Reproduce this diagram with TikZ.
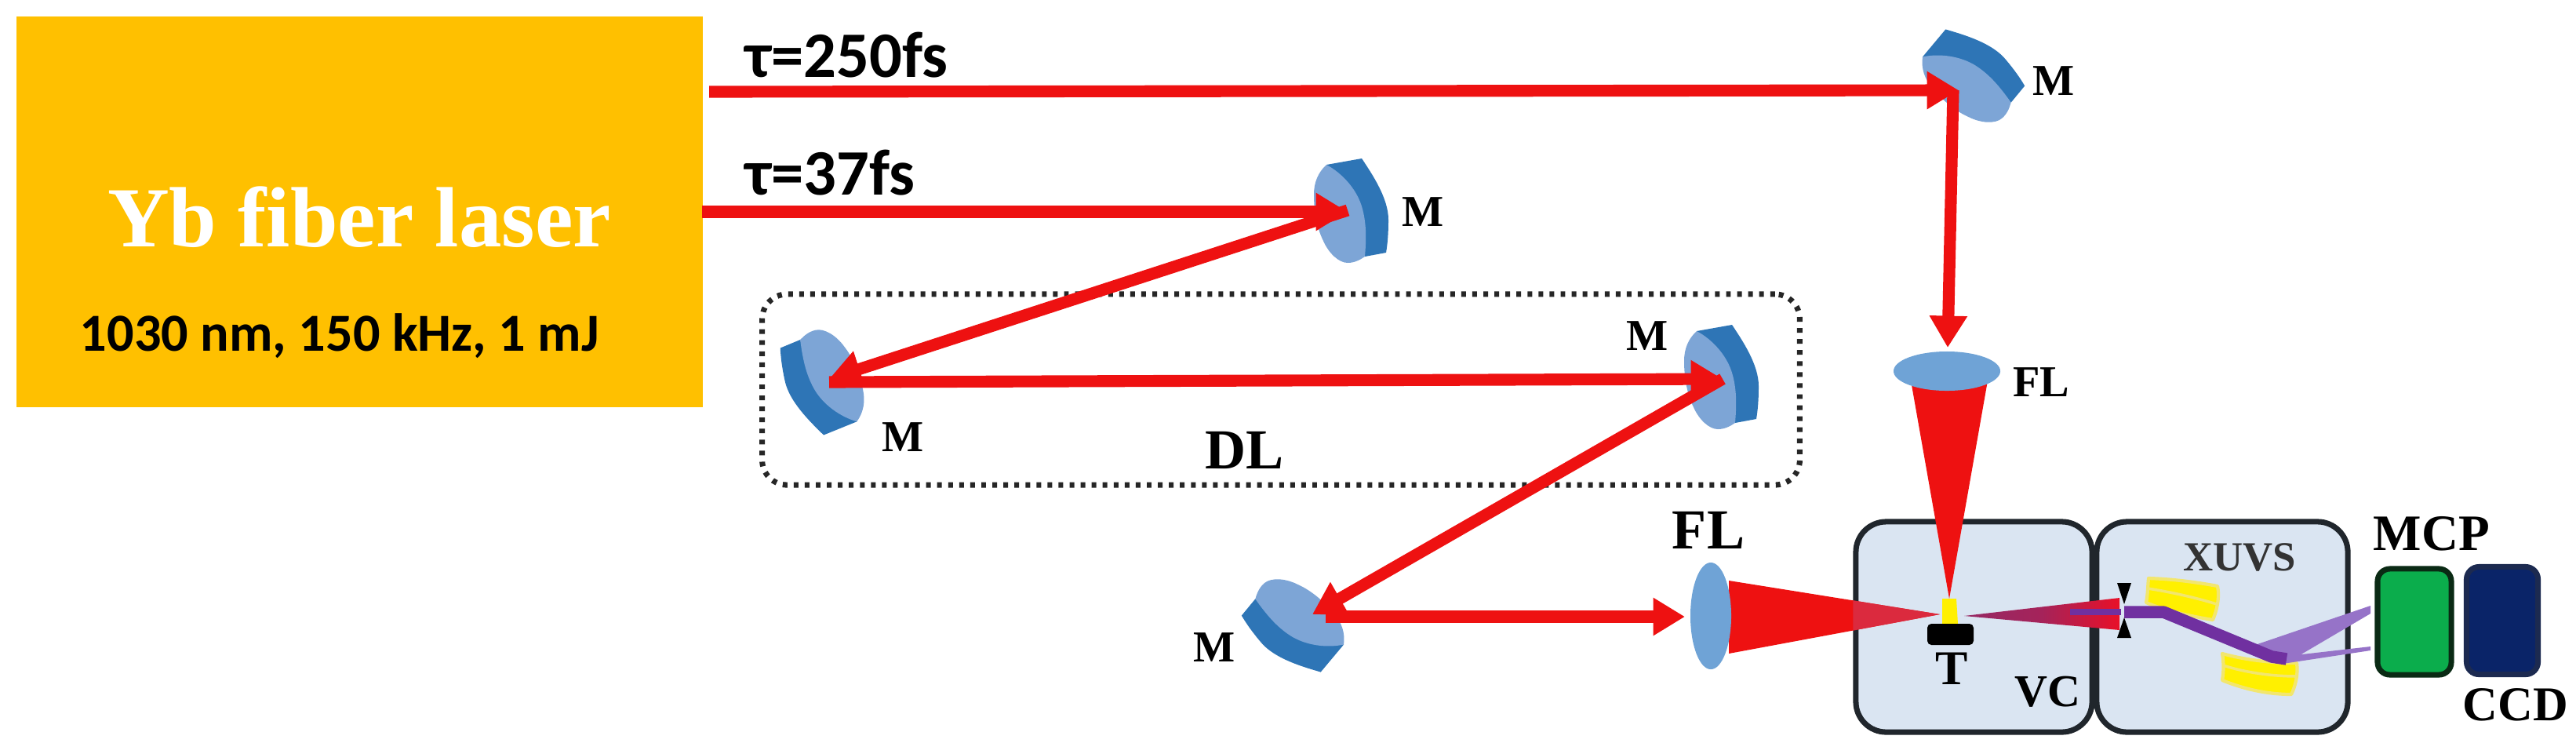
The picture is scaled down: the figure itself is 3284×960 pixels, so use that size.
\documentclass[tikz,border=0pt]{standalone}
\usepackage{fontspec}
\setmainfont{Liberation Serif}
\newfontfamily\carlito{Carlito}
\usetikzlibrary{arrows.meta,shapes.geometric}
\definecolor{beamred}{HTML}{EE1111}
\definecolor{mlight}{HTML}{7DA5D6}
\definecolor{mdark}{HTML}{2E75B6}
\definecolor{lensblue}{HTML}{6FA3D6}
\definecolor{chamber}{HTML}{DAE5F2}
\definecolor{chamberline}{HTML}{20262C}
\definecolor{laserfill}{HTML}{FFC000}
\definecolor{conedark}{HTML}{DB2A3E}
\definecolor{purplebeam}{HTML}{7030A0}
\definecolor{fan}{HTML}{9673C8}
\definecolor{yel}{HTML}{FFF000}
\definecolor{yelb}{HTML}{F2E66E}
\definecolor{mcpgreen}{HTML}{0BAD4C}
\definecolor{mcpedge}{HTML}{0A2A14}
\definecolor{ccdnavy}{HTML}{0A2468}
\definecolor{ccdedge}{HTML}{1C2A50}
\tikzset{
  beam/.style={draw=beamred,line width=4.3pt,-{Triangle[length=11.5pt,width=13pt,fill=beamred]}},
  chamberbox/.style={draw=chamberline,fill=chamber,line width=2pt,rounded corners=11pt,inner sep=0pt},
  detbox/.style={line width=2pt,rounded corners=4.5pt,inner sep=0pt},
  lbl/.style={font=\bfseries\fontsize{16}{16}\selectfont,text=black,inner sep=0pt},
  lblbig/.style={font=\bfseries\fontsize{20.5}{20.5}\selectfont,text=black,inner sep=0pt},
  lblmid/.style={font=\bfseries\fontsize{17.6}{17.6}\selectfont,text=black,inner sep=0pt},
  tau/.style={font=\carlito\bfseries\fontsize{23.5}{23.5}\selectfont,text=black,inner sep=0pt,anchor=base west},
  lens/.style={ellipse,fill=lensblue},
  xmirror/.style={fill=yel,draw=yelb,line width=1.2pt,line join=round},
  mirrorpic/.pic={
    \fill[mdark] (-31,-58) -- (14,-66)
      .. controls (28,-45) and (48,-15) .. (48,12)
      .. controls (48,30) and (47,42) .. (45,54)
      -- (18,59) -- (10,0) -- cycle;
    \fill[mlight] (-31,-58) .. controls (-42,-48) and (-47,-35) .. (-47,-20)
      .. controls (-47,5) and (-42,25) .. (-35,39)
      .. controls (-28,55) and (-15,67) .. (-4,67)
      .. controls (5,67) and (12,63) .. (18,59)
      .. controls (20,35) and (20,15) .. (14,-5)
      .. controls (7,-28) and (-12,-48) .. cycle;
  }
}
\begin{document}
\begin{tikzpicture}[x=0.01cm,y=-0.01cm]
\useasboundingbox (0,0) rectangle (3284,960);
\fill[white] (0,0) rectangle (3284,960);

% laser
\node[fill=laserfill,minimum width=8.75cm,minimum height=4.98cm,inner sep=0pt,outer sep=0pt] (laser) at (458.5,270) {};
\node[font=\bfseries\fontsize{31}{31}\selectfont,text=white,anchor=base,inner sep=0pt] (yb) at (458,314) {Yb fiber laser};
\node[font=\carlito\bfseries\fontsize{19.4}{19.4}\selectfont,text=black,anchor=base,inner sep=0pt] (spec) at (433,447) {1030 nm, 150 kHz, 1 mJ};
\node[tau] (tauA) at (950,98) {τ=250fs};
\node[tau] (tauB) at (950,248) {τ=37fs};

% delay line box
\node[draw=black!85,line width=2pt,dash pattern=on 1.7pt off 2.3pt,rounded corners=9pt,minimum width=13.22cm,minimum height=2.43cm,inner sep=0pt] (dl) at (1633,496.5) {};
\node[lblbig] (dltext) at (1587,574) {DL};

% chambers
\node[chamberbox,minimum width=3.01cm,minimum height=2.68cm] (vc) at (2516.5,799) {};
\node[chamberbox,minimum width=3.2cm,minimum height=2.68cm] (xuvs) at (2833,799) {};
\node[detbox,draw=mcpedge,fill=mcpgreen,minimum width=0.94cm,minimum height=1.35cm] (mcp) at (3078,792.5) {};
\node[detbox,draw=ccdedge,fill=ccdnavy,minimum width=0.91cm,minimum height=1.37cm] (ccd) at (3190,791) {};

% mirrors
\pic (mA) at (2512,97) [rotate=40] {mirrorpic};
\pic (mB) at (1722,268) {mirrorpic};
\pic (mC) at (1050,487) [rotate=192] {mirrorpic};
\pic (mD) at (2194,480) {mirrorpic};
\pic (mE) at (1652,797) [rotate=220] {mirrorpic};
\node[lbl] (lA) at (2618,103) {M};
\node[lbl] (lB) at (1814,270) {M};
\node[lbl] (lC) at (1151,557) {M};
\node[lbl] (lD) at (2100,428) {M};
\node[lbl] (lE) at (1548,825) {M};

% focusing cones
\coordinate (focus) at (2473,783);
\fill[beamred] (2204,740) -- (focus) -- (2204,833) -- cycle;
\begin{scope}
  \clip[rounded corners=11pt] (vc.south west) rectangle (vc.north east);
  \fill[conedark] (2204,740) -- (focus) -- (2204,833) -- cycle;
\end{scope}
\fill[beamred] (2436,485) -- (2534,485) -- (2485,763) -- cycle;
\fill[yel] (2476,763) -- (2494,763) -- (2496,795) -- (2476,795) -- cycle;
\node[fill=black,rounded corners=1.5pt,minimum width=0.59cm,minimum height=0.27cm,inner sep=0pt] (target) at (2486.5,808.5) {};

% outgoing harmonic cone
\shade[left color={rgb,255:red,150;green,40;blue,100},right color={rgb,255:red,232;green,16;blue,40},middle color={rgb,255:red,165;green,35;blue,90}] (2504,785) -- (2702,762) -- (2702,803) -- cycle;
\draw[purplebeam,line width=2pt] (2639,780) -- (2704,780);

% lenses
\node[lens,minimum width=1.36cm,minimum height=0.5cm,inner sep=0pt] (flA) at (2482,473) {};
\node[lens,minimum width=0.52cm,minimum height=1.36cm,inner sep=0pt] (flB) at (2181,785) {};
\node[lbl] (lF) at (2602,487) {FL};
\node[lblbig] (lG) at (2178,676) {FL};

% XUV spectrometer
\fill[xmirror] (2739,737) .. controls (2770,738) and (2800,742) .. (2827,747) .. controls (2830,762) and (2826,778) .. (2821,790) .. controls (2790,785) and (2760,778) .. (2736,768) .. controls (2738,758) and (2738,748) .. cycle;
\draw[yelb,line width=1pt] (2738,750) .. controls (2770,755) and (2800,762) .. (2826,770);
\fill[xmirror] (2833,833) .. controls (2865,842) and (2900,845) .. (2928,845) .. controls (2930,860) and (2926,875) .. (2921,885) .. controls (2890,885) and (2860,878) .. (2833,867) .. controls (2835,855) and (2835,845) .. cycle;
\draw[yelb,line width=1pt] (2834,848) .. controls (2865,858) and (2900,862) .. (2928,862);
\fill[fan] (2875,822) -- (3022,772) -- (3022,782) -- (2920,842) -- cycle;
\fill[fan] (2900,838) -- (3022,824) -- (3022,829) -- (2910,846) -- cycle;
\draw[purplebeam,line width=4.4pt,line join=round] (2708,780) -- (2758,780) -- (2896,837) -- (2915,840);
\fill[black] (2699,743) -- (2717,743) -- (2708,770) -- cycle;
\fill[black] (2708,787) -- (2699,813) -- (2717,813) -- cycle;

% beams
\coordinate (sA) at (904,117);
\coordinate (tA) at (2497,115);
\coordinate (sA2) at (2490,115);
\coordinate (tA2) at (2483,443);
\coordinate (sB) at (895,270);
\coordinate (tB) at (1718,270);
\coordinate (sB2) at (1718,268);
\coordinate (tB2) at (1057,483);
\coordinate (sB3) at (1057,487);
\coordinate (tB3) at (2196,483);
\coordinate (sB4) at (2196,483);
\coordinate (tB4) at (1673,783);
\coordinate (sB5) at (1690,786);
\coordinate (tB5) at (2148,786);
\draw[beam] (sA) -- (tA);
\draw[beam] (sA2) -- (tA2);
\draw[beam] (sB) -- (tB);
\draw[beam] (sB2) -- (tB2);
\draw[beam] (sB3) -- (tB3);
\draw[beam] (sB4) -- (tB4);
\draw[beam] (sB5) -- (tB5);

% chamber labels
\node[lblmid] (tT) at (2488,852) {T};
\node[font=\bfseries\fontsize{16.5}{16.5}\selectfont,inner sep=0pt] (tVC) at (2610,882) {VC};
\node[font=\bfseries\fontsize{15}{15}\selectfont,inner sep=0pt,text=black!80] (tX) at (2855,710) {XUVS};
\node[font=\bfseries\fontsize{18.5}{18.5}\selectfont,inner sep=0pt] (tM) at (3100,680) {MCP};
\node[lblmid] (tC) at (3207,898) {CCD};
\end{tikzpicture}
\end{document}
